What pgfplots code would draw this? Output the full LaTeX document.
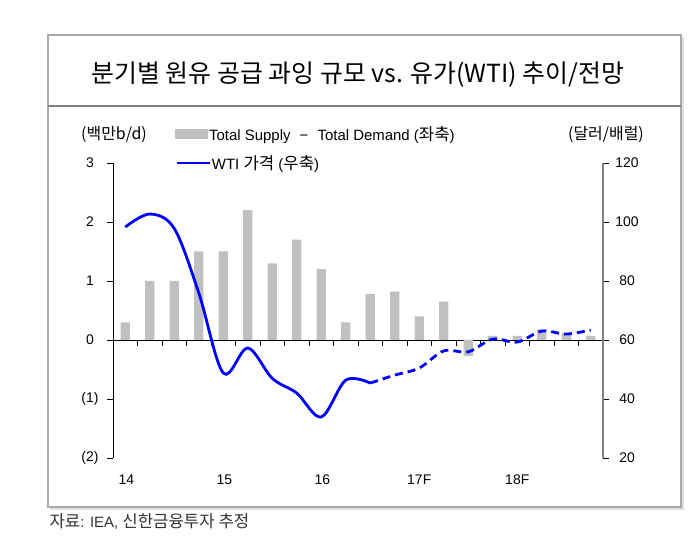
\documentclass[border=0pt]{standalone}
\usepackage{pgfplots}
\pgfplotsset{compat=1.18}
\usepackage{fontspec}
\setmainfont{Liberation Sans}
\newfontfamily\kr{Noto Sans CJK KR}
\newfontfamily\krs[Scale=1.12]{Noto Sans CJK KR}
\definecolor{bargray}{RGB}{192,192,192}
\definecolor{wtiblue}{RGB}{0,0,255}
\definecolor{framegray}{RGB}{170,170,170}
\definecolor{axgray}{RGB}{128,128,128}

\pgfplotstableread{
x y
0 0.30
1 1.00
2 1.00
3 1.50
4 1.50
5 2.20
6 1.30
7 1.70
8 1.20
9 0.30
10 0.78
11 0.82
12 0.40
13 0.65
14 -0.27
15 0.07
16 0.07
17 0.18
18 0.12
19 0.07
}\gap

\pgfplotstableread{
x y
0 98.3
1 102.7
2 97.8
3 76
4 48.8
5 57.3
6 47
7 42
8 33.9
9 46.4
10 45.4
}\wtiA

\pgfplotstableread{
x y
10 45.4
11 48.1
12 50.5
13 56.3
14 56
15 60.3
16 59.3
17 63
18 62
19 63.4
}\wtiB

\begin{document}
\begin{tikzpicture}[x=1bp,y=1bp]
\path[fill=white] (0,0) rectangle (700,544);
\draw[black!12, line width=1.5bp] (50,35) -- (683,35) -- (683,507);
\draw[framegray, line width=1.2bp] (48,37) rectangle (681,509);
\draw[axgray, line width=1.8bp] (48,438) -- (681,438);
\node[font=\kr\fontsize{25}{28}\selectfont] at (358,469) {분기별 원유 공급 과잉 규모 vs. 유가(WTI) 추이/전망};
\node[anchor=west, font=\fontsize{15}{17}\selectfont, text=black!80] at (46,22) {{\krs 자료}: IEA, {\krs 신한금융투자 추정}};
\node[font=\kr\fontsize{16}{18}\selectfont] at (114,410) {(백만b/d)};
\node[font=\kr\fontsize{16}{18}\selectfont] at (606,410) {(달러/배럴)};

\begin{axis}[
  at={(113bp,86bp)}, anchor=south west, scale only axis,
  width=490bp, height=295bp,
  xmin=-0.5, xmax=19.5, ymin=-2, ymax=3,
  axis y line*=left, axis x line*=middle,
  x axis line style={-, black, line width=0.8bp},
  y axis line style={-, black, line width=0.8bp},
  xtick={0.5,1.5,...,18.5}, xticklabels={},
  ytick={-2,-1,0,1,2,3}, yticklabels={(2),(1),0,1,2,3},
  tick align=outside, major tick length=6bp,
  tick style={black, line width=0.8bp},
  yticklabel style={anchor=center, xshift=-17bp, font=\fontsize{14}{16}\selectfont},
  legend style={at={(0.1265,1.098)}, anchor=west, draw=none, fill=none, inner sep=0pt,
    font=\fontsize{15}{17}\selectfont, nodes={inner sep=1bp}},
  clip=false,
]
\addplot[ybar, bar width=9.3bp, bar shift=0pt, fill=bargray, draw=none,
  legend image code/.code={\fill[bargray] (0bp,-5bp) rectangle (33bp,5bp);}] table[x=x,y=y] {\gap};
\addlegendentry{Total Supply \,\,−\,\, Total Demand ({\krs 좌축})}
\node[font=\fontsize{14}{16}\selectfont, yshift=-22bp] at (axis cs:0.05,-2) {14};
\node[font=\fontsize{14}{16}\selectfont, yshift=-22bp] at (axis cs:4.05,-2) {15};
\node[font=\fontsize{14}{16}\selectfont, yshift=-22bp] at (axis cs:8.05,-2) {16};
\node[font=\fontsize{14}{16}\selectfont, yshift=-22bp] at (axis cs:12,-2) {17F};
\node[font=\fontsize{14}{16}\selectfont, yshift=-22bp] at (axis cs:16,-2) {18F};
\end{axis}

\begin{axis}[
  at={(113bp,86bp)}, anchor=south west, scale only axis,
  width=490bp, height=295bp,
  xmin=-0.5, xmax=19.5, ymin=20, ymax=120,
  axis y line*=right, hide x axis,
  y axis line style={-, axgray, line width=1.5bp},
  ytick={20,40,60,80,100,120},
  tick align=outside, major tick length=6bp,
  tick style={black, line width=0.8bp},
  /pgf/number format/assume math mode=true,
  yticklabel style={anchor=center, xshift=18bp, font=\fontsize{14}{16}\selectfont},
  legend style={at={(0.1265,1.0)}, anchor=west, draw=none, fill=none, inner sep=0pt,
    font=\fontsize{15}{17}\selectfont, nodes={inner sep=1bp}},
  clip=false,
]
\addplot[wtiblue, line width=2.8bp, smooth, tension=0.55,
  legend image code/.code={\draw[wtiblue, line width=2.8bp] (0bp,0bp) -- (33bp,0bp);}] table[x=x,y=y] {\wtiA};
\addlegendentry{WTI {\krs 가격} ({\krs 우축})}
\addplot[wtiblue, line width=2.8bp, smooth, tension=0.55, dash pattern=on 8bp off 5bp, forget plot] table[x=x,y=y] {\wtiB};
\end{axis}
\end{tikzpicture}
\end{document}
